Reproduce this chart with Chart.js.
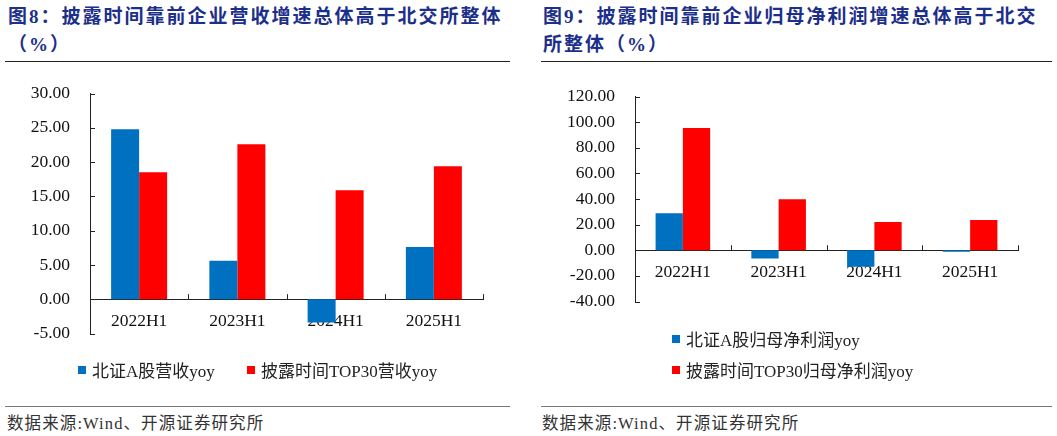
<!DOCTYPE html>
<html>
<head>
<meta charset="utf-8">
<script src="https://cdn.jsdelivr.net/npm/chart.js@4.4.1/dist/chart.umd.min.js"></script>
<style>
  body { margin: 0; background: #fff; width: 1057px; height: 436px; position: relative; overflow: hidden; }
  .title { position: absolute; font-family: "Liberation Serif", "Noto Sans CJK SC"; font-weight: bold; font-size: 19px; letter-spacing: 2px; line-height: 28px; color: #1c2f8a; white-space: nowrap; }
  .rule { position: absolute; height: 0; }
  .rule.top { border-top: 1.5px solid #222; }
  .rule.bottom { border-top: 1.5px solid #777; }
  .source { position: absolute; font-family: "Liberation Serif", "Noto Sans CJK SC"; font-size: 16.5px; letter-spacing: 1.1px; color: #333; white-space: nowrap; }
  canvas { position: absolute; }
  .legend { position: absolute; font-family: "Liberation Serif", "Noto Sans CJK SC"; font-size: 17px; color: #222; white-space: nowrap; }
  .legend span.item { position: absolute; display: flex; align-items: center; }
  .legend i { display: inline-block; width: 8px; height: 8px; margin-right: 6px; }
</style>
</head>
<body>
<div class="title" style="left:8px; top:3px;">图8：披露时间靠前企业营收增速总体高于北交所整体<br>（%）</div>
<div class="rule top" style="left:5px; top:61px; width:505px;"></div>
<canvas id="chart-left" width="520" height="301" style="left:0; top:63px;"></canvas>
<div class="legend" id="legend-left"></div>
<div class="rule bottom" style="left:5px; top:406px; width:505px;"></div>
<div class="source" style="left:7px; top:410px;">数据来源:Wind、开源证券研究所</div>

<div class="title" style="left:543px; top:3px;">图9：披露时间靠前企业归母净利润增速总体高于北交<br>所整体（%）</div>
<div class="rule top" style="left:541px; top:61px; width:511px;"></div>
<canvas id="chart-right" width="527" height="266" style="left:530px; top:66px;"></canvas>
<div class="legend" id="legend-right"></div>
<div class="rule bottom" style="left:541px; top:406px; width:511px;"></div>
<div class="source" style="left:542px; top:410px;">数据来源:Wind、开源证券研究所</div>

<script>
// Data
const periods = ['2022H1', '2023H1', '2024H1', '2025H1'];

const revenueNames = ['北证A股营收yoy', '披露时间TOP30营收yoy'];
const revenueAll = [24.8, 5.6, -3.4, 7.6];
const revenueTop30 = [18.5, 22.6, 15.9, 19.4];
const revenueTicks = { min: -5, max: 30, step: 5 };

const profitNames = ['北证A股归母净利润yoy', '披露时间TOP30归母净利润yoy'];
const profitAll = [28.9, -6.5, -12.8, -1.2];
const profitTop30 = [95.5, 39.8, 22.1, 23.7];
const profitTicks = { min: -40, max: 120, step: 20 };

const colors = ['#0070c0', '#ff0000'];

// Inward tick marks on both axes
const innerTicks = {
  id: 'innerTicks',
  afterDatasetsDraw(chart) {
    const { ctx, scales: { x, y } } = chart;
    const zero = y.getPixelForValue(0);
    ctx.save();
    ctx.strokeStyle = '#222';
    ctx.lineWidth = 1;
    ctx.beginPath();
    y.ticks.forEach(t => {
      const py = Math.round(y.getPixelForValue(t.value)) + 0.5;
      ctx.moveTo(x.left, py);
      ctx.lineTo(x.left + 5, py);
    });
    for (let i = 0; i < periods.length; i++) {
      const px = Math.round(x.getPixelForValue(i + 0.5)) + 0.5;
      ctx.moveTo(px, zero);
      ctx.lineTo(px, zero - 5);
    }
    ctx.stroke();
    ctx.restore();
  }
};

function makeChart(id, names, seriesA, seriesB, ticks, yWidth, padding) {
  const tickFont = { family: 'Liberation Serif', size: 17.5 };
  return new Chart(document.getElementById(id), {
    type: 'bar',
    data: {
      labels: periods,
      datasets: [
        { label: names[0], data: seriesA, backgroundColor: colors[0] },
        { label: names[1], data: seriesB, backgroundColor: colors[1] }
      ]
    },
    options: {
      responsive: false,
      animation: false,
      devicePixelRatio: 1,
      layout: { padding },
      datasets: { bar: { categoryPercentage: 0.57, barPercentage: 1 } },
      plugins: { legend: { display: false }, tooltip: { enabled: false } },
      scales: {
        x: {
          position: { y: 0 },
          z: 1,
          afterFit: s => { s.height = 0; },
          grid: { display: false, drawTicks: false },
          border: { display: true, color: '#222', width: 1 },
          ticks: { font: tickFont, color: '#111', padding: 12, maxRotation: 0 }
        },
        y: {
          min: ticks.min,
          max: ticks.max,
          afterFit: s => { s.width = yWidth; },
          grid: { display: false, drawTicks: false },
          border: { display: true, color: '#222', width: 1 },
          ticks: {
            stepSize: ticks.step,
            font: tickFont,
            color: '#111',
            padding: 20,
            callback: v => v.toFixed(2)
          }
        }
      }
    },
    plugins: [innerTicks]
  });
}

function makeLegend(id, names, positions) {
  const box = document.getElementById(id);
  names.forEach((name, i) => {
    const item = document.createElement('span');
    item.className = 'item';
    item.style.left = positions[i][0] + 'px';
    item.style.top = positions[i][1] + 'px';
    item.innerHTML = `<i style="background:${colors[i]}"></i>${name}`;
    box.appendChild(item);
  });
}

makeChart('chart-left', revenueNames, revenueAll, revenueTop30, revenueTicks, 90,
  { top: 12, right: 37, bottom: 17, left: 0 });
makeChart('chart-right', profitNames, profitAll, profitTop30, profitTicks, 105,
  { top: 16, right: 39, bottom: 19, left: 0 });

makeLegend('legend-left', revenueNames, [[78, 357], [247, 357]]);
makeLegend('legend-right', profitNames, [[672, 326], [672, 357]]);
</script>
</body>
</html>
